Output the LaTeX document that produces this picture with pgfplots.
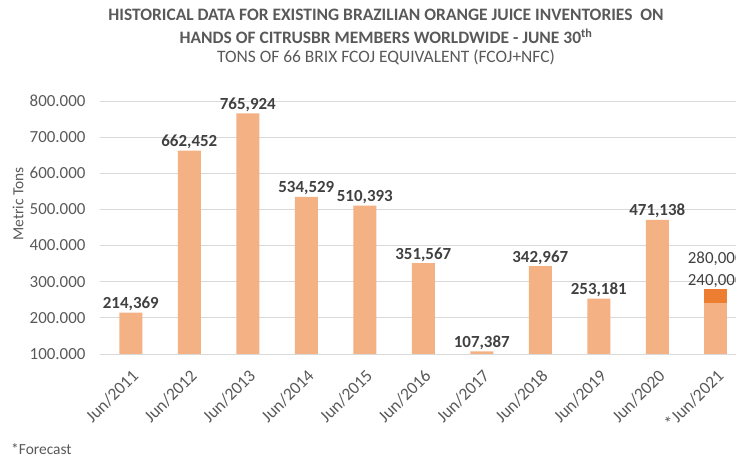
\documentclass[border=0pt]{standalone}
\usepackage{pgfplots}
\pgfplotsset{compat=1.18}
\usepackage{fontspec}
\setmainfont{Carlito}
\definecolor{lor}{HTML}{F4B183}
\definecolor{dor}{HTML}{ED7D31}
\definecolor{txt}{HTML}{595959}
\definecolor{lab}{HTML}{404040}
\definecolor{grd}{HTML}{D9D9D9}
\begin{document}
\begin{tikzpicture}[x=1bp,y=1bp]
\useasboundingbox (0,0) rectangle (736,459);
\begin{axis}[at={(100bp,105bp)}, anchor=south west, scale only axis,
  width=645bp, height=253bp,
  xmin=-0.527, xmax=10.5, ymin=100000, ymax=800000,
  axis line style={draw=none},
  ymajorgrids, grid style={grd, line width=0.9bp},
  major tick length=0pt,
  xtick={0,...,10},
  xticklabels={Jun/2011,Jun/2012,Jun/2013,Jun/2014,Jun/2015,Jun/2016,Jun/2017,Jun/2018,Jun/2019,Jun/2020,*Jun/2021},
  x tick label style={rotate=45, anchor=north east, font=\fontsize{17.5}{20}\selectfont, text=txt, inner sep=2bp, xshift=-8bp, yshift=-8bp},
  ytick={100000,200000,...,800000},
  scaled y ticks=false,
  y tick label style={font=\fontsize{17}{20}\selectfont, text=txt, xshift=-11bp,
    /pgf/number format/.cd, fixed, precision=0, 1000 sep={.}, assume math mode=true},
  clip=false,
  ybar, bar width=23bp,
]
\addplot[draw=none, fill=lor, bar shift=0pt,
  nodes near coords, point meta=explicit symbolic,
  nodes near coords style={font=\fontsize{17}{20}\selectfont\bfseries, text=lab, anchor=south, inner sep=1.5bp}]
  table[meta=lab] {
x y lab
0 214369 214,369
1 662452 662,452
2 765924 765,924
3 534529 534,529
4 510393 510,393
5 351567 351,567
6 107387 107,387
7 342967 342,967
8 253181 253,181
9 471138 471,138
};
\addplot[draw=none, fill=dor, bar shift=0pt] coordinates {(10,280000)};
\addplot[draw=none, fill=lor, bar shift=0pt] coordinates {(10,240000)};
\node[font=\fontsize{17}{20}\selectfont, text=lab, anchor=south, inner sep=1.5bp] at (axis cs:10,280000) {240,000};
\node[font=\fontsize{17}{20}\selectfont, text=lab, anchor=south, inner sep=1.5bp] at (axis cs:10,340000) {280,000};
\end{axis}
\node[font=\fontsize{17.5}{20}\selectfont\bfseries, text=txt] at (386,444) {HISTORICAL DATA FOR EXISTING BRAZILIAN ORANGE JUICE INVENTORIES\ \ ON};
\node[font=\fontsize{17.5}{20}\selectfont\bfseries, text=txt] at (386,423) {HANDS OF CITRUSBR MEMBERS WORLDWIDE - JUNE 30\textsuperscript{th}};
\node[font=\fontsize{17.5}{20}\selectfont, text=txt] at (386,402) {TONS OF 66 BRIX FCOJ EQUIVALENT (FCOJ+NFC)};
\node[font=\fontsize{15.5}{18}\selectfont, text=txt, rotate=90] at (18,255) {Metric Tons};
\node[font=\fontsize{15.5}{18}\selectfont, text=txt, anchor=west, inner sep=0pt] at (11,10) {*Forecast};
\end{tikzpicture}
\end{document}
